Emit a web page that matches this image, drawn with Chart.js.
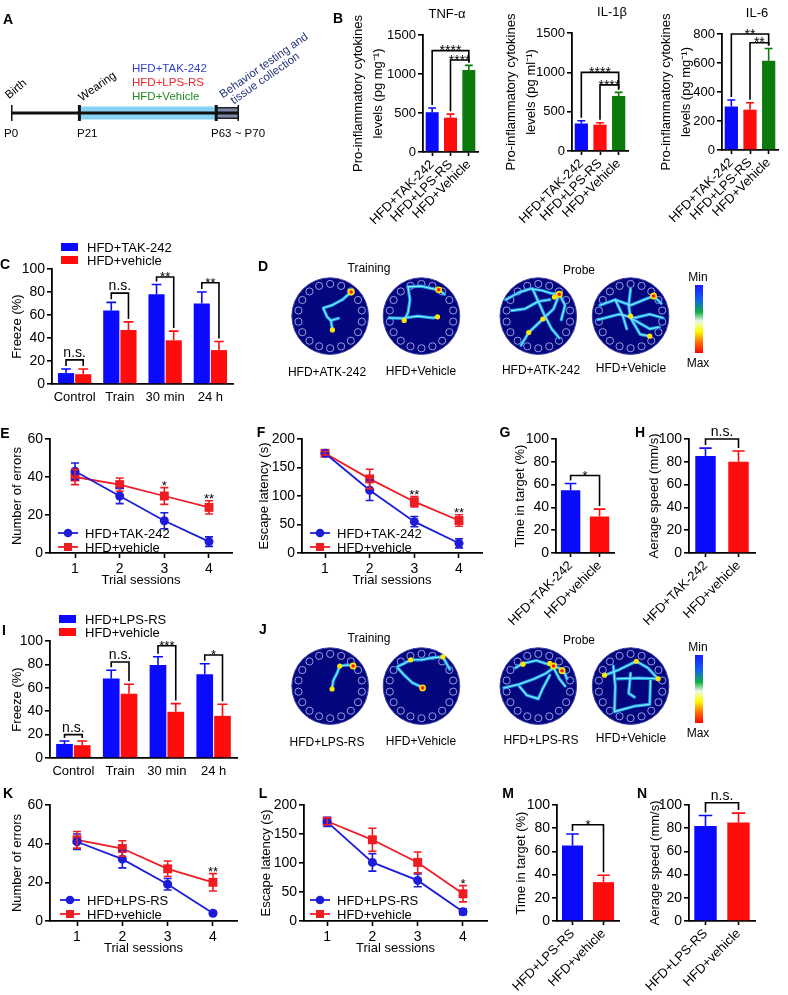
<!DOCTYPE html>
<html>
<head>
<meta charset="utf-8">
<title>HFD + TLR4 antagonists</title>
<script src="https://cdn.jsdelivr.net/npm/chart.js@4.4.1/dist/chart.umd.min.js"></script>
<style>
  html, body { margin: 0; padding: 0; background: #fff; }
  body { position: relative; width: 788px; height: 995px; overflow: hidden;
         font-family: "Liberation Sans", Arial, Helvetica, sans-serif; color: #000; }
  canvas { position: absolute; }
  .t { position: absolute; white-space: nowrap; line-height: 1; }
  .cbar { position: absolute; width: 8px;
          background: linear-gradient(#1a1aff 0%, #1060f0 22%, #10b040 40%, #eaf8ea 53%, #ffff00 68%, #ff8000 82%, #ff0000 100%); }
</style>
</head>
<body>
<script>
// ---------- data ----------
const timelineDays = [0, 21, 63, 70];
const timelineLabels = ['P0', 'P21', 'P63 ~ P70'];

const cytoGroups = ['HFD+TAK-242', 'HFD+LPS-RS', 'HFD+Vehicle'];
const tnfLevels = [510, 440, 1050];
const tnfSem = [55, 45, 60];
const il1bLevels = [350, 335, 700];
const il1bSem = [35, 25, 45];
const il6Levels = [300, 278, 615];
const il6Sem = [45, 48, 85];
const tnfSig = [[0, 2, 1300, '****'], [1, 2, 1180, '****']];
const il1bSig = [[0, 2, 1000, '****'], [1, 2, 840, '****']];
const il6Sig = [[0, 2, 800, '**'], [1, 2, 740, '**']];

const fearPhases = ['Control', 'Train', '30 min', '24 h'];
const freezeTak = [9.5, 64, 78, 70];
const freezeTakSem = [3.5, 7, 8.5, 10];
const freezeVehC = [8.5, 47, 38, 29.5];
const freezeVehCSem = [4.5, 7, 8, 7.5];
const freezeSigC = [[0, 21, 'n.s.'], [1, 79, 'n.s.'], [2, 93, '**'], [3, 88, '**']];

const trialSessions = [1, 2, 3, 4];
const errorsTak = [43, 30, 17, 6];
const errorsTakSem = [4.4, 4, 4.2, 2.5];
const errorsVehE = [40, 36, 30, 24];
const errorsVehESem = [4, 3.5, 4.4, 3.5];
const errorsSigE = [[2, '*'], [3, '**']];
const latencyTak = [175, 110, 55, 17];
const latencyTakSem = [3, 18, 9, 8];
const latencyVehF = [175, 130, 90, 57];
const latencyVehFSem = [3, 17, 9, 10];
const latencySigF = [[2, '**'], [3, '**']];

const probeGroupsTak = ['HFD+TAK-242', 'HFD+vehicle'];
const targetTimeTak = [55, 32];
const targetTimeTakSem = [6, 6.5];
const speedTak = [85, 80];
const speedTakSem = [7, 9.5];
const targetSigTak = [68, '*'];
const speedSigTak = [100, 'n.s.'];

const freezeLps = [12, 68, 79.5, 71.5];
const freezeLpsSem = [2.5, 7, 7, 9];
const freezeVehI = [11, 55, 39.5, 36];
const freezeVehISem = [3.5, 8, 7, 10];
const freezeSigI = [[0, 20, 'n.s.'], [1, 82, 'n.s.'], [2, 96, '***'], [3, 88, '*']];

const errorsLps = [41, 32, 19, 4];
const errorsLpsSem = [4, 4.5, 3, 1];
const errorsVehK = [42, 37.5, 27, 20];
const errorsVehKSem = [4.3, 4, 4, 4.5];
const errorsSigK = [[3, '**']];
const latencyLps = [171, 101, 70, 16];
const latencyLpsSem = [8, 15, 11, 5];
const latencyVehL = [172, 140, 101, 47];
const latencyVehLSem = [6, 20, 18, 14];
const latencySigL = [[3, '*']];

const probeGroupsLps = ['HFD+LPS-RS', 'HFD+vehicle'];
const targetTimeLps = [65, 33.5];
const targetTimeLpsSem = [10, 6];
const speedLps = [82, 85];
const speedLpsSem = [9, 8];
const targetSigLps = [83, '*'];
const speedSigLps = [102, 'n.s.'];

// Barnes maze track heat maps, points in unit-disc coordinates (y down)
const mazeTrainTak = [
  [[0.55, -0.66], [0.32, -0.45], [0.05, -0.3], [-0.18, -0.22], [-0.08, 0.02], [0.02, 0.12], [0.06, 0.38]],
  [[0.02, 0.12], [0.22, 0.06]]
];
const spotsTrainTak = [[0.55, -0.66, 'hot'], [0.06, 0.38, 'warm']];
const mazeTrainVehD = [
  [[-0.35, -0.8], [-0.3, -0.45], [-0.35, -0.1], [-0.45, 0.12]],
  [[-0.35, -0.8], [0.0, -0.82], [0.25, -0.76], [0.45, -0.72], [0.6, -0.6]],
  [[-0.85, 0.05], [-0.5, 0.06], [-0.1, 0.0], [0.3, 0.05], [0.42, 0.02]]
];
const spotsTrainVehD = [[0.45, -0.72, 'hot'], [0.42, 0.02, 'warm'], [-0.45, 0.12, 'warm']];
const mazeProbeTak = [
  [[-0.85, -0.45], [-0.5, -0.65], [-0.2, -0.75], [0.1, -0.7], [0.35, -0.62], [0.55, -0.6]],
  [[-0.15, -0.75], [0.0, -0.4], [0.15, -0.05], [0.35, 0.35], [0.55, 0.6]],
  [[0.55, -0.6], [0.4, -0.2], [0.1, 0.1], [-0.25, 0.45], [-0.45, 0.8]],
  [[-0.7, -0.15], [-0.35, -0.2], [0.0, -0.4], [0.3, -0.45]],
  [[0.55, -0.6], [0.7, -0.3], [0.6, 0.1]]
];
const spotsProbeTak = [[0.55, -0.6, 'hot'], [0.42, -0.52, 'warm'], [0.12, 0.08, 'warm'], [-0.25, 0.45, 'warm']];
const mazeProbeVehD = [
  [[-0.8, -0.3], [-0.4, -0.45], [0.0, -0.3], [0.35, -0.45], [0.6, -0.55], [0.8, -0.35]],
  [[-0.85, 0.1], [-0.3, -0.05], [0.1, 0.05], [0.5, -0.05], [0.85, 0.05]],
  [[0.0, -0.75], [-0.05, -0.3], [0.0, 0.05], [0.25, 0.5], [0.5, 0.55]],
  [[-0.4, -0.45], [-0.2, 0.0], [-0.1, 0.35]],
  [[0.0, 0.05], [0.5, 0.35], [0.75, 0.3]]
];
const spotsProbeVehD = [[0.6, -0.55, 'hot'], [0.0, 0.0, 'warm'], [0.5, 0.55, 'warm']];

const mazeTrainLps = [
  [[0.05, 0.08], [0.08, -0.15], [0.18, -0.35], [0.25, -0.55], [0.45, -0.58], [0.62, -0.55]]
];
const spotsTrainLps = [[0.05, 0.08, 'warm'], [0.25, -0.55, 'warm'], [0.6, -0.55, 'hot']];
const mazeTrainVehJ = [
  [[-0.62, -0.54], [-0.45, -0.62], [-0.28, -0.72], [0.0, -0.72], [0.3, -0.78], [0.56, -0.8], [0.74, -0.46]],
  [[-0.62, -0.5], [-0.45, -0.3], [-0.25, -0.1], [-0.05, 0.0], [0.03, 0.05]]
];
const spotsTrainVehJ = [[-0.28, -0.72, 'warm'], [0.03, 0.05, 'hot'], [0.56, -0.8, 'warm']];
const mazeProbeLps = [
  [[-0.6, -0.5], [-0.4, -0.62], [-0.05, -0.7], [0.25, -0.6], [0.4, -0.55], [0.65, -0.45], [0.75, -0.2]],
  [[-0.9, 0.05], [-0.5, -0.05], [-0.1, -0.2], [0.2, -0.35], [0.4, -0.5]],
  [[-0.5, 0.0], [-0.3, 0.25], [0.0, 0.35], [0.1, 0.1], [0.3, -0.3]],
  [[0.4, -0.5], [0.55, -0.2], [0.7, 0.0]]
];
const spotsProbeLps = [[0.4, -0.55, 'hot'], [0.3, -0.62, 'warm'], [0.62, -0.42, 'hot'], [-0.4, -0.6, 'warm']];
const mazeProbeVehJ = [
  [[-0.68, -0.3], [-0.3, -0.45], [0.15, -0.68], [0.45, -0.5], [0.72, -0.2]],
  [[-0.35, -0.2], [0.2, -0.22], [0.72, -0.2]],
  [[-0.45, -0.55], [-0.4, 0.0], [-0.42, 0.7]],
  [[-0.42, 0.7], [0.1, 0.55], [0.5, 0.5], [0.52, -0.15]],
  [[0.0, -0.35], [-0.05, 0.2], [0.1, 0.3]]
];
const spotsProbeVehJ = [[0.72, -0.2, 'warm'], [0.15, -0.68, 'warm'], [-0.68, -0.3, 'warm']];

// ---------- styling ----------
const FONT = "'Liberation Sans', Arial, Helvetica, sans-serif";
const BLUE = '#0a0aff', RED = '#ff0d0d', GREEN = '#0b7a0b';
const LBLUE = '#1c1cd9', LRED = '#ee1d23';
const MAZE_R = 39;

Chart.defaults.font.family = FONT;
Chart.defaults.font.size = 13;
Chart.defaults.color = '#000';
Chart.defaults.animation = false;
Chart.defaults.responsive = false;
Chart.defaults.devicePixelRatio = 1;
Chart.defaults.events = [];
Chart.defaults.plugins.legend.display = false;
Chart.defaults.plugins.tooltip.enabled = false;

function makeCanvas(left, top, width, height) {
  const c = document.createElement('canvas');
  c.width = width;
  c.height = height;
  c.style.left = left + 'px';
  c.style.top = top + 'px';
  document.body.appendChild(c);
  return c;
}

function addText(s, x, y, o = {}) {
  const el = document.createElement('div');
  el.className = 't';
  el.textContent = s;
  const size = o.size || 12;
  el.style.fontSize = size + 'px';
  el.style.top = (y - size / 2) + 'px';
  el.style.left = x + 'px';
  if (o.bold) el.style.fontWeight = 'bold';
  if (o.color) el.style.color = o.color;
  if (o.rot) {
    el.style.transformOrigin = '0 50%';
    el.style.transform = `rotate(${o.rot}deg)`;
  } else if (!o.left) {
    el.style.transform = 'translateX(-50%)';
  }
  document.body.appendChild(el);
}

function sigText(ctx, text, x, y, size) {
  ctx.fillStyle = '#000';
  ctx.textAlign = 'center';
  ctx.textBaseline = 'alphabetic';
  if (text.includes('*')) {
    ctx.font = `${size}px ${FONT}`;
    ctx.fillText(text, x, y + size * 0.33);
  } else {
    ctx.font = `14px ${FONT}`;
    ctx.fillText(text, x, y - 3);
  }
}

// error bars, significance brackets, y titles and legends
function stats(cfg) {
  return {
    id: 'stats',
    afterDatasetsDraw(chart) {
      const ctx = chart.ctx, yS = chart.scales.y, area = chart.chartArea;
      const ds = chart.data.datasets;
      const valueAt = (di, i) => { const r = ds[di].data[i]; return typeof r === 'object' ? r.y : r; };
      const colorAt = (di, i) => { const c = ds[di].backgroundColor; return Array.isArray(c) ? c[i] : c; };
      const elAt = (di, i) => chart.getDatasetMeta(di).data[i];
      const topPx = (di, i) => yS.getPixelForValue(valueAt(di, i) + ds[di].errors[i]);
      const starSize = cfg.starSize || 13;
      ctx.save();
      ctx.lineWidth = 1.6;
      ds.forEach((d, di) => {
        d.errors.forEach((e, i) => {
          const el = elAt(di, i), v = valueAt(di, i);
          const yt = topPx(di, i);
          const yb = yS.getPixelForValue(cfg.twoSided ? v - e : v);
          const half = cfg.twoSided ? 4 : el.width * 0.3;
          ctx.strokeStyle = colorAt(di, i);
          ctx.beginPath();
          ctx.moveTo(el.x, yb); ctx.lineTo(el.x, yt);
          ctx.moveTo(el.x - half, yt); ctx.lineTo(el.x + half, yt);
          if (cfg.twoSided) { ctx.moveTo(el.x - half, yb); ctx.lineTo(el.x + half, yb); }
          ctx.stroke();
        });
      });
      ctx.strokeStyle = '#000';
      (cfg.brackets || []).forEach(([da, ia, db, ib, level, text]) => {
        const xa = elAt(da, ia).x, xb = elAt(db, ib).x, ly = yS.getPixelForValue(level);
        ctx.beginPath();
        ctx.moveTo(xa, Math.max(ly, topPx(da, ia) - 3));
        ctx.lineTo(xa, ly);
        ctx.lineTo(xb, ly);
        ctx.lineTo(xb, Math.max(ly, topPx(db, ib) - 3));
        ctx.stroke();
        sigText(ctx, text, (xa + xb) / 2, ly, starSize);
      });
      (cfg.marks || []).forEach(([di, i, text]) => sigText(ctx, text, elAt(di, i).x, topPx(di, i) - 2, starSize));

      if (cfg.yTitle) {
        const lh = cfg.titleLH || 15.6;
        ctx.fillStyle = '#000';
        ctx.font = `13px ${FONT}`;
        ctx.textAlign = 'center';
        ctx.textBaseline = 'middle';
        [].concat(cfg.yTitle).forEach((t, k) => {
          ctx.save();
          ctx.translate(yS.left + lh / 2 + k * lh, (area.top + area.bottom) / 2);
          ctx.rotate(-Math.PI / 2);
          ctx.fillText(t, 0, 0);
          ctx.restore();
        });
      }

      const lg = cfg.legend;
      if (lg) {
        ds.forEach((d, di) => {
          const yy = (lg.fromTop ? area.top : area.bottom) + lg.rows[di];
          const x0 = area.left + lg.x;
          const col = colorAt(di, 0);
          let tx;
          if (lg.kind === 'box') {
            ctx.fillStyle = col;
            ctx.fillRect(x0, yy - 4, 17, 8);
            tx = x0 + 26;
          } else {
            ctx.strokeStyle = col;
            ctx.lineWidth = 1.8;
            ctx.beginPath(); ctx.moveTo(x0, yy); ctx.lineTo(x0 + 20, yy); ctx.stroke();
            ctx.fillStyle = col;
            if (d.pointStyle === 'rect') ctx.fillRect(x0 + 6, yy - 4, 8, 8);
            else { ctx.beginPath(); ctx.arc(x0 + 10, yy, 4.3, 0, Math.PI * 2); ctx.fill(); }
            tx = x0 + 27;
          }
          ctx.fillStyle = '#000';
          ctx.font = `13px ${FONT}`;
          ctx.textAlign = 'left';
          ctx.textBaseline = 'middle';
          ctx.fillText(d.label, tx, yy + 1);
        });
      }
      ctx.restore();
    }
  };
}

function frame(rect, plot, padLeft, xHeight) {
  const [L, T, W, H] = rect;
  return {
    canvas: makeCanvas(L, T, W, H),
    yWidth: plot.x0 - L - padLeft,
    xHeight,
    padding: { left: padLeft, top: plot.top - T, right: L + W - plot.x1, bottom: T + H - plot.bottom - xHeight }
  };
}

function valueAxis(max, step, width, size = 14) {
  return {
    min: 0, max,
    ticks: { stepSize: step, padding: 2, font: { size }, callback: v => String(v) },
    grid: { drawOnChartArea: false, tickLength: 5, tickColor: '#000', tickWidth: 1.6, color: '#000', lineWidth: 1.6 },
    border: { color: '#000', width: 1.8 },
    afterFit: s => { s.width = width; }
  };
}

function catAxis(height, rotate) {
  return {
    offset: true,
    ticks: rotate
      ? { minRotation: 45, maxRotation: 45, padding: 1, autoSkip: false, font: { size: 13 } }
      : { maxRotation: 0, padding: 6, autoSkip: false, font: { size: 13 } },
    grid: rotate
      ? { offset: false, drawOnChartArea: false, tickLength: 4, tickColor: '#000', tickWidth: 1.6 }
      : { display: false, drawTicks: false },
    border: { color: '#000', width: 1.8 },
    afterFit: s => { s.height = height; }
  };
}

function sessionAxis(min, max, height) {
  return {
    type: 'linear', min, max,
    afterBuildTicks: s => { s.ticks = trialSessions.map(v => ({ value: v })); },
    ticks: { padding: 3, font: { size: 14 } },
    grid: { drawOnChartArea: false, tickLength: 5, tickColor: '#000', tickWidth: 1.6, color: '#000' },
    border: { color: '#000', width: 1.8 },
    title: { display: true, text: 'Trial sessions', padding: 0, font: { size: 13 } },
    afterFit: s => { s.height = height; }
  };
}

function barPanel(o) {
  const f = frame(o.rect, o.plot, o.padLeft, o.xHeight);
  return new Chart(f.canvas, {
    type: 'bar',
    data: { labels: o.labels, datasets: o.datasets },
    options: {
      layout: { padding: f.padding },
      scales: { x: catAxis(f.xHeight, o.rotate), y: valueAxis(o.yMax, o.yStep, f.yWidth, o.tickSize || 14) }
    },
    plugins: [stats({ yTitle: o.yTitle, titleLH: o.titleLH, brackets: o.brackets, legend: o.legend, starSize: o.starSize })]
  });
}

function cytoPanel(rect, plot, levels, sem, sig, yMax, yStep, unit) {
  return barPanel({
    rect, plot, padLeft: 0, xHeight: rect[1] + rect[3] - plot.bottom, rotate: true,
    labels: cytoGroups,
    datasets: [{ data: levels, errors: sem, backgroundColor: [BLUE, RED, GREEN], categoryPercentage: 1, barPercentage: 0.71 }],
    yMax, yStep, tickSize: 13,
    yTitle: ['Pro-inflammatory cytokines', `levels (pg ${unit}\u207B\u00B9)`], titleLH: 20,
    brackets: sig.map(([a, b, lvl, t]) => [0, a, 0, b, lvl, t]), starSize: 14
  });
}

function fearPanel(rect, plot, names, a, aErr, b, bErr, sig) {
  return barPanel({
    rect, plot, padLeft: 10, xHeight: 26, rotate: false,
    labels: fearPhases,
    datasets: [
      { label: names[0], data: a, errors: aErr, backgroundColor: BLUE, categoryPercentage: 0.76, barPercentage: 0.94 },
      { label: names[1], data: b, errors: bErr, backgroundColor: RED, categoryPercentage: 0.76, barPercentage: 0.94 }
    ],
    yMax: 100, yStep: 20, yTitle: 'Freeze (%)',
    brackets: sig.map(([i, lvl, t]) => [0, i, 1, i, lvl, t]),
    legend: { kind: 'box', fromTop: true, x: 9, rows: [-22, -9] }
  });
}

function pairPanel(rect, plot, padLeft, xHeight, labels, values, sem, sig, title, barPct) {
  return barPanel({
    rect, plot, padLeft, xHeight, rotate: true,
    labels,
    datasets: [{ data: values, errors: sem, backgroundColor: [BLUE, RED], categoryPercentage: 1, barPercentage: barPct }],
    yMax: 100, yStep: 20, yTitle: title,
    brackets: [[0, 0, 0, 1, sig[0], sig[1]]]
  });
}

function linePanel(o) {
  const f = frame(o.rect, o.plot, o.padLeft, 35);
  const xy = vals => trialSessions.map((s, i) => ({ x: s, y: vals[i] }));
  return new Chart(f.canvas, {
    type: 'line',
    data: {
      datasets: [
        { label: o.names[0], data: xy(o.a), errors: o.aErr, borderColor: LBLUE, backgroundColor: LBLUE,
          pointStyle: 'circle', pointRadius: 4.5, pointBorderWidth: 0, borderWidth: 1.8 },
        { label: o.names[1], data: xy(o.b), errors: o.bErr, borderColor: LRED, backgroundColor: LRED,
          pointStyle: 'rect', pointRadius: 6.3, pointBorderWidth: 0, borderWidth: 1.8 }
      ]
    },
    options: {
      layout: { padding: f.padding },
      scales: { x: sessionAxis(o.xMin, o.xMax, 35), y: valueAxis(o.yMax, o.yStep, f.yWidth) }
    },
    plugins: [stats({
      twoSided: true, yTitle: o.yTitle,
      marks: o.marks.map(([i, t]) => [1, i, t]),
      legend: { kind: 'line', fromTop: false, x: o.legendX, rows: o.legendRows }
    })]
  });
}

// ---------- maze heat maps ----------
const mazePlugin = centers => ({
  id: 'maze',
  beforeDatasetsDraw(chart) {
    const { ctx, scales: { x, y } } = chart;
    ctx.save();
    centers.forEach(([cx, cy]) => {
      const px = x.getPixelForValue(cx), py = y.getPixelForValue(cy);
      const r = x.getPixelForValue(cx + MAZE_R) - px;
      ctx.fillStyle = '#03067c';
      ctx.beginPath(); ctx.arc(px, py, r, 0, Math.PI * 2); ctx.fill();
      ctx.strokeStyle = '#3a3ea8'; ctx.lineWidth = 1; ctx.stroke();
      ctx.strokeStyle = '#a9ade8'; ctx.lineWidth = 0.9;
      for (let k = 0; k < 18; k++) {
        const a = (k + 0.5) / 18 * Math.PI * 2;
        ctx.beginPath();
        ctx.arc(px + 0.84 * r * Math.cos(a), py + 0.84 * r * Math.sin(a), 3.6, 0, Math.PI * 2);
        ctx.stroke();
      }
    });
    ctx.restore();
  }
});

function mazeDatasets(mazes) {
  const out = [];
  mazes.forEach(m => {
    const toXY = p => ({ x: m.c[0] + p[0] * MAZE_R, y: m.c[1] + p[1] * MAZE_R });
    m.paths.forEach(path => {
      out.push({ data: path.map(toXY), showLine: true, pointRadius: 0, borderColor: '#1a9cf0', borderWidth: 3.2,
                 borderJoinStyle: 'round', borderCapStyle: 'round', order: 3 });
      out.push({ data: path.map(toXY), showLine: true, pointRadius: 0, borderColor: '#8cf0ff', borderWidth: 1.1,
                 borderJoinStyle: 'round', borderCapStyle: 'round', order: 2 });
    });
    out.push({ data: m.spots.map(toXY), pointRadius: m.spots.map(s => s[2] === 'hot' ? 3.4 : 2.6),
               pointBackgroundColor: '#ffe600', pointBorderWidth: 0, order: 1 });
    out.push({ data: m.spots.filter(s => s[2] === 'hot').map(toXY), pointRadius: 1.8,
               pointBackgroundColor: '#ff1a00', pointBorderWidth: 0, order: 0 });
  });
  return out;
}

function heatPanel(top, groups) {
  const centers = [[47, 61], [140, 61], [259, 61], [353, 61]];
  const mazes = groups.map((g, k) => ({ c: centers[k], paths: g[0], spots: g[1] }));
  new Chart(makeCanvas(280, top, 440, 125), {
    type: 'scatter',
    data: { datasets: mazeDatasets(mazes) },
    options: {
      layout: { padding: 0 },
      scales: { x: { min: 0, max: 440, display: false }, y: { min: 0, max: 125, reverse: true, display: false } }
    },
    plugins: [mazePlugin(centers)]
  });
}

// ---------- A: timeline ----------
new Chart(makeCanvas(0, 73, 250, 80), {
  type: 'scatter',
  data: {
    datasets: [
      { data: timelineDays.map(d => ({ x: d, y: 0 })), pointStyle: 'line', pointRotation: 90, pointRadius: 8,
        pointBorderWidth: 3, pointBorderColor: '#111', order: 0 },
      { data: [{ x: timelineDays[0], y: 0 }, { x: timelineDays[3], y: 0 }], showLine: true, pointRadius: 0,
        borderColor: '#111', borderWidth: 3, order: 1 },
      { data: [{ x: timelineDays[2], y: 0 }, { x: timelineDays[3], y: 0 }], showLine: true, pointRadius: 0,
        borderColor: '#7d86a8', borderWidth: 9, borderCapStyle: 'butt', order: 2 },
      { data: [{ x: timelineDays[2], y: 0 }, { x: timelineDays[3], y: 0 }], showLine: true, pointRadius: 0,
        borderColor: '#222', borderWidth: 12, borderCapStyle: 'butt', order: 3 },
      { data: [{ x: timelineDays[1], y: 0 }, { x: timelineDays[2], y: 0 }], showLine: true, pointRadius: 0,
        borderColor: '#86d3f5', borderWidth: 13, borderCapStyle: 'butt', order: 4 }
    ]
  },
  options: {
    layout: { padding: { left: 7, right: 8, top: 0, bottom: 0 } },
    scales: { x: { min: 0, max: 70, display: false }, y: { min: -1, max: 1, display: false } }
  }
});
addText('Birth', 7, 97, { size: 11.5, rot: -40 });
addText('Wearing', 80, 99, { size: 11.5, rot: -35 });
addText('HFD+TAK-242', 132, 69, { size: 11.5, left: true, color: '#2f3fd0' });
addText('HFD+LPS-RS', 132, 83, { size: 11.5, left: true, color: '#e8262b' });
addText('HFD+Vehicle', 132, 97, { size: 11.5, left: true, color: '#1f8a1f' });
addText('Behavior testing and', 221, 96, { size: 11.5, rot: -35, color: '#24357a' });
addText('tissue collection', 232, 102, { size: 11.5, rot: -35, color: '#24357a' });
addText(timelineLabels[0], 4, 134, { size: 11.5, left: true });
addText(timelineLabels[1], 77, 134, { size: 11.5, left: true });
addText(timelineLabels[2], 211, 134, { size: 11.5, left: true });

// ---------- B: cytokines ----------
cytoPanel([348, 0, 136, 230], { x0: 423, x1: 478, top: 35, bottom: 152 }, tnfLevels, tnfSem, tnfSig, 1500, 500, 'mg');
cytoPanel([501, 0, 133, 230], { x0: 572, x1: 628, top: 33, bottom: 151 }, il1bLevels, il1bSem, il1bSig, 1500, 500, 'ml');
cytoPanel([656, 0, 128, 230], { x0: 722, x1: 778, top: 34, bottom: 150 }, il6Levels, il6Sem, il6Sig, 800, 200, 'mg');
addText('TNF-\u03B1', 447, 13, { size: 13 });
addText('IL-1\u03B2', 612, 11, { size: 13 });
addText('IL-6', 757, 12, { size: 13 });

// ---------- C / I: fear conditioning ----------
fearPanel([0, 230, 240, 180], { x0: 52, x1: 233, top: 269, bottom: 384 }, ['HFD+TAK-242', 'HFD+vehicle'],
  freezeTak, freezeTakSem, freezeVehC, freezeVehCSem, freezeSigC);
fearPanel([0, 600, 245, 185], { x0: 50, x1: 237, top: 641, bottom: 758 }, ['HFD+LPS-RS', 'HFD+vehicle'],
  freezeLps, freezeLpsSem, freezeVehI, freezeVehISem, freezeSigI);

// ---------- D / J: heat maps ----------
heatPanel(255, [[mazeTrainTak, spotsTrainTak], [mazeTrainVehD, spotsTrainVehD], [mazeProbeTak, spotsProbeTak], [mazeProbeVehD, spotsProbeVehD]]);
heatPanel(625, [[mazeTrainLps, spotsTrainLps], [mazeTrainVehJ, spotsTrainVehJ], [mazeProbeLps, spotsProbeLps], [mazeProbeVehJ, spotsProbeVehJ]]);
[[0, ['HFD+ATK-242', 'HFD+Vehicle', 'HFD+ATK-242', 'HFD+Vehicle']], [370, ['HFD+LPS-RS', 'HFD+Vehicle', 'HFD+LPS-RS', 'HFD+Vehicle']]]
  .forEach(([dy, names]) => {
    addText('Training', 369, 268 + dy);
    addText('Probe', 579, 270 + dy);
    addText(names[0], 327, 372 + dy);
    addText(names[1], 421, 371 + dy);
    addText(names[2], 541, 370 + dy);
    addText(names[3], 631, 368 + dy);
    addText('Min', 698, 277 + dy);
    addText('Max', 698, 363 + dy);
    const bar = document.createElement('div');
    bar.className = 'cbar';
    bar.style.left = '695px';
    bar.style.top = (285 + dy) + 'px';
    bar.style.height = '68px';
    document.body.appendChild(bar);
  });

// ---------- E / F / K / L: Barnes maze training ----------
linePanel({ rect: [0, 425, 240, 170], plot: { x0: 50, x1: 232, top: 439, bottom: 553 }, padLeft: 10,
  xMin: 0.44, xMax: 4.515, yMax: 60, yStep: 20, yTitle: 'Number of errors',
  names: ['HFD+TAK-242', 'HFD+vehicle'], a: errorsTak, aErr: errorsTakSem, b: errorsVehE, bErr: errorsVehESem,
  marks: errorsSigE, legendX: 8, legendRows: [-20, -6] });
linePanel({ rect: [250, 425, 240, 170], plot: { x0: 302, x1: 482, top: 439, bottom: 553 }, padLeft: 7,
  xMin: 0.485, xMax: 4.515, yMax: 200, yStep: 50, yTitle: 'Escape latency (s)',
  names: ['HFD+TAK-242', 'HFD+vehicle'], a: latencyTak, aErr: latencyTakSem, b: latencyVehF, bErr: latencyVehFSem,
  marks: latencySigF, legendX: 8, legendRows: [-20, -6] });
linePanel({ rect: [0, 790, 245, 175], plot: { x0: 50, x1: 237, top: 805, bottom: 921 }, padLeft: 10,
  xMin: 0.404, xMax: 4.53, yMax: 60, yStep: 20, yTitle: 'Number of errors',
  names: ['HFD+LPS-RS', 'HFD+vehicle'], a: errorsLps, aErr: errorsLpsSem, b: errorsVehK, bErr: errorsVehKSem,
  marks: errorsSigK, legendX: 10, legendRows: [-21, -7] });
linePanel({ rect: [250, 790, 245, 175], plot: { x0: 304, x1: 487, top: 805, bottom: 921 }, padLeft: 9,
  xMin: 0.49, xMax: 4.53, yMax: 200, yStep: 50, yTitle: 'Escape latency (s)',
  names: ['HFD+LPS-RS', 'HFD+vehicle'], a: latencyLps, aErr: latencyLpsSem, b: latencyVehL, bErr: latencyVehLSem,
  marks: latencySigL, legendX: 6, legendRows: [-21, -7] });

// ---------- G / H / M / N: probe trial ----------
pairPanel([495, 420, 125, 215], { x0: 554, x1: 614, top: 439, bottom: 553 }, 15, 82,
  probeGroupsTak, targetTimeTak, targetTimeTakSem, targetSigTak, 'Time in target (%)', 0.67);
pairPanel([628, 415, 132, 220], { x0: 689, x1: 755, top: 439, bottom: 553 }, 19, 82,
  probeGroupsTak, speedTak, speedTakSem, speedSigTak, 'Aerage speed (mm/s)', 0.62);
pairPanel([495, 785, 130, 210], { x0: 557, x1: 619, top: 805, bottom: 921 }, 19, 74,
  probeGroupsLps, targetTimeLps, targetTimeLpsSem, targetSigLps, 'Time in target (%)', 0.68);
pairPanel([628, 780, 135, 215], { x0: 689, x1: 755, top: 805, bottom: 921 }, 20, 74,
  probeGroupsLps, speedLps, speedLpsSem, speedSigLps, 'Aerage speed (mm/s)', 0.68);

// ---------- panel letters ----------
[['A', 8, 19], ['B', 338, 18], ['C', 5, 264], ['D', 263, 266], ['E', 5, 433], ['F', 261, 432],
 ['G', 505, 432], ['H', 640, 432], ['I', 4, 630], ['J', 263, 629], ['K', 8, 793], ['L', 263, 793],
 ['M', 508, 793], ['N', 642, 793]].forEach(([s, x, y]) => addText(s, x, y, { size: 14, bold: true }));
</script>
</body>
</html>
